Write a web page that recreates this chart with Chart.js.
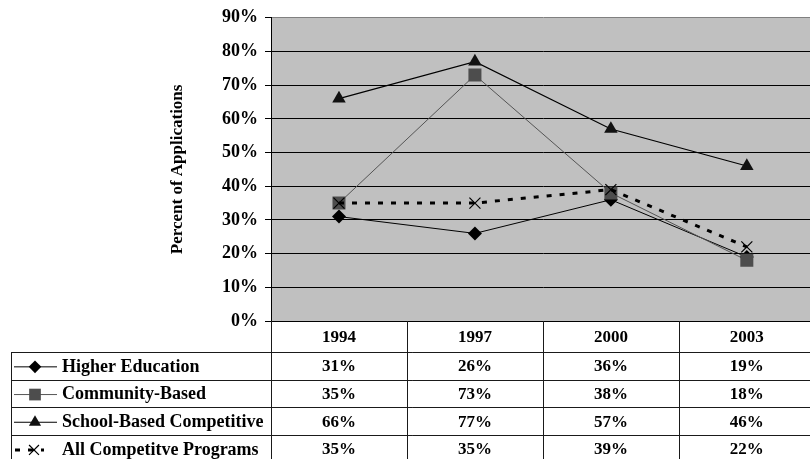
<!DOCTYPE html>
<html>
<head>
<meta charset="utf-8">
<script src="https://cdn.jsdelivr.net/npm/chart.js@4/dist/chart.umd.min.js"></script>
<style>
  html, body { margin: 0; padding: 0; background: #fff; overflow: hidden; }
  #wrap { width: 810px; height: 459px; overflow: hidden; }
  canvas { display: block; }
</style>
</head>
<body>
<div id="wrap"><canvas id="c" width="824" height="459"></canvas></div>
<script>
// Survey years (columns of the data table)
const categories = ['1994', '1997', '2000', '2003'];

// Share of applications, in percent
const seriesNames = ['Higher Education', 'Community-Based', 'School-Based Competitive', 'All Competitve Programs'];
const higherEducation = [31, 26, 36, 19];
const communityBased = [35, 73, 38, 18];
const schoolBased = [66, 77, 57, 46];
const allCompetitive = [35, 35, 39, 22];

const FONT = 'Liberation Serif, Times New Roman, serif';

const seriesStyles = [
  { color: '#000000', width: 1, dash: [], point: 'rectRot', radius: 7, fill: '#000000', pbw: 0 },
  { color: '#555555', width: 1, dash: [], point: 'rect', radius: 9.2, fill: '#4d4d4d', pbw: 0 },
  { color: '#000000', width: 1.2, dash: [], point: 'triangle', radius: 7.8, fill: '#111111', pbw: 0 },
  { color: '#000000', width: 3, dash: [5, 8], point: 'crossRot', radius: 7.8, fill: '#000000', pbw: 1.2 }
];
const seriesValues = [higherEducation, communityBased, schoolBased, allCompetitive];

const datasets = seriesValues.map((vals, i) => {
  const s = seriesStyles[i];
  return {
    label: seriesNames[i],
    data: vals,
    borderColor: s.color,
    borderWidth: s.width,
    borderDash: s.dash,
    borderCapStyle: 'butt',
    pointStyle: s.point,
    pointRadius: s.radius,
    pointHoverRadius: s.radius,
    pointBackgroundColor: s.fill,
    pointBorderColor: s.fill,
    pointBorderWidth: s.pbw,
    tension: 0,
    fill: false,
    order: 3 - i
  };
});

// Grey plot background
const plotBackground = {
  id: 'plotBackground',
  beforeDraw(chart) {
    const { ctx, chartArea: a } = chart;
    ctx.save();
    ctx.fillStyle = '#c0c0c0';
    ctx.fillRect(a.left, a.top, a.right - a.left, a.bottom - a.top);
    ctx.restore();
  }
};

function drawMarker(ctx, style, x, y) {
  ctx.save();
  ctx.fillStyle = style.fill;
  ctx.strokeStyle = style.fill;
  ctx.lineWidth = style.pbw || 1;
  Chart.helpers.drawPoint(ctx, {
    pointStyle: style.point,
    radius: style.radius,
    rotation: 0,
    borderWidth: style.pbw
  }, x, y);
  ctx.restore();
}

// Data table under the plot: year header, legend keys and values
const dataTable = {
  id: 'dataTable',
  afterDraw(chart) {
    const { ctx, chartArea: a, scales } = chart;
    const xs = scales.x;
    const n = categories.length;
    const colW = (a.right - a.left) / n;
    const headerBottom = 352;
    const rowH = 27.7;
    const tableBottom = headerBottom + rowH * seriesNames.length;
    const tableLeft = 11;
    const crisp = v => Math.round(v) + 0.5;

    ctx.save();
    ctx.strokeStyle = '#1a1a1a';
    ctx.lineWidth = 1;

    // column separators
    for (let i = 0; i <= n; i++) {
      const x = crisp(a.left + i * colW);
      ctx.beginPath();
      ctx.moveTo(x, a.bottom);
      ctx.lineTo(x, tableBottom);
      ctx.stroke();
    }
    // row separators
    for (let r = 0; r <= seriesNames.length; r++) {
      const y = crisp(headerBottom + r * rowH);
      ctx.beginPath();
      ctx.moveTo(tableLeft, y);
      ctx.lineTo(a.right, y);
      ctx.stroke();
    }
    // left border of the legend column
    ctx.beginPath();
    ctx.moveTo(crisp(tableLeft), headerBottom);
    ctx.lineTo(crisp(tableLeft), tableBottom);
    ctx.stroke();

    // year header
    ctx.fillStyle = '#000';
    ctx.font = 'bold 17px ' + FONT;
    ctx.textAlign = 'center';
    ctx.textBaseline = 'middle';
    categories.forEach((c, i) => {
      ctx.fillText(c, xs.getPixelForValue(i), (a.bottom + headerBottom) / 2 + 1);
    });

    // rows
    seriesNames.forEach((name, r) => {
      const cy = headerBottom + r * rowH + rowH / 2 + 1;
      const s = seriesStyles[r];

      // legend key
      ctx.save();
      ctx.strokeStyle = s.color;
      ctx.lineWidth = s.width;
      ctx.setLineDash(s.dash);
      ctx.beginPath();
      if (s.dash.length) {
        ctx.moveTo(15, cy);
        ctx.lineTo(44, cy);
      } else {
        ctx.moveTo(14, cy);
        ctx.lineTo(57, cy);
      }
      ctx.stroke();
      ctx.restore();
      const ms = Object.assign({}, s, { radius: s.radius * 0.9 });
      drawMarker(ctx, ms, s.dash.length ? 34 : 35, cy);

      ctx.fillStyle = '#000';
      ctx.font = 'bold 18px ' + FONT;
      ctx.textAlign = 'left';
      ctx.fillText(name, 62, cy);

      ctx.font = 'bold 17px ' + FONT;
      ctx.textAlign = 'center';
      seriesValues[r].forEach((v, i) => {
        ctx.fillText(v + '%', xs.getPixelForValue(i), cy);
      });
    });
    ctx.restore();
  }
};

new Chart(document.getElementById('c'), {
  type: 'line',
  data: { labels: categories, datasets },
  plugins: [plotBackground, dataTable],
  options: {
    responsive: false,
    animation: false,
    devicePixelRatio: 1,
    layout: { padding: { top: 14, right: 2, left: 0, bottom: 0 } },
    plugins: {
      legend: { display: false },
      tooltip: { enabled: false }
    },
    scales: {
      x: {
        type: 'category',
        offset: true,
        grid: { display: false },
        border: { display: true, color: '#000', width: 1 },
        ticks: { display: false },
        afterFit(scale) { scale.height = 138; }
      },
      y: {
        min: 0,
        max: 90,
        ticks: {
          stepSize: 10,
          color: '#000',
          padding: 7,
          font: { family: FONT, size: 18, weight: 'bold' },
          callback: v => v + '%'
        },
        grid: {
          color: ctx => (ctx.tick && ctx.tick.value === 90 ? '#808080' : '#000'),
          lineWidth: 1,
          tickLength: 6,
          tickColor: '#000'
        },
        border: { display: true, color: '#000', width: 1 },
        title: {
          display: true,
          text: 'Percent of Applications',
          color: '#000',
          font: { family: FONT, size: 17, weight: 'bold' },
          padding: { top: 167, bottom: 0 }
        },
        afterFit(scale) { scale.width = 271; }
      }
    }
  }
});
</script>
</body>
</html>
